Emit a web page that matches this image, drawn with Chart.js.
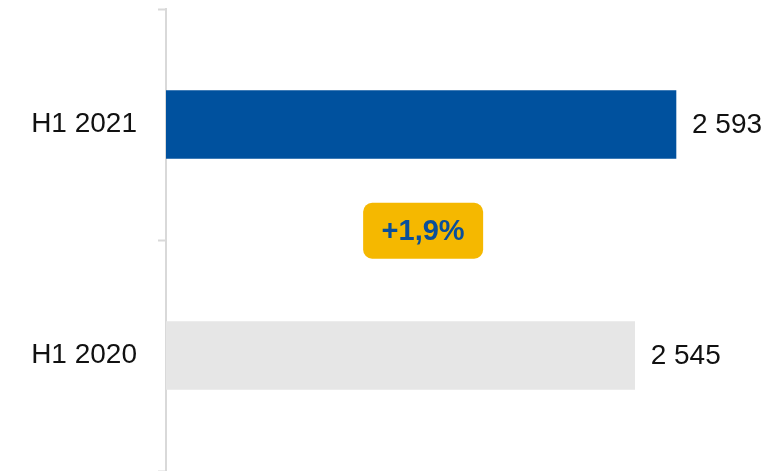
<!DOCTYPE html>
<html>
<head>
<meta charset="utf-8">
<script src="https://cdn.jsdelivr.net/npm/chart.js@4/dist/chart.umd.min.js"></script>
<style>
  html, body { margin: 0; padding: 0; background: #fff; }
  #wrap { width: 784px; height: 471px; position: relative; }
</style>
</head>
<body>
<div id="wrap"><canvas id="halfYearChart"></canvas></div>
<script>
// Chart data
const periods = ["H1 2021", "H1 2020"];
const values = [2593, 2545];
const barColors = ["#00519E", "#E6E6E6"];
const changeLabel = "+1,9%";

const FONT = "'Liberation Sans', Arial, sans-serif";
const AXIS_GREY = "#D9D9D9";

// thousands with a space, like "2 593"
function formatValue(v) {
    return String(v).replace(/\B(?=(\d{3})+(?!\d))/g, " ");
}

// Value labels at the end of each bar
const valueLabels = {
    id: "valueLabels",
    afterDatasetsDraw(chart) {
        const ctx = chart.ctx;
        const meta = chart.getDatasetMeta(0);
        ctx.save();
        ctx.font = "28px " + FONT;
        ctx.fillStyle = "#111";
        ctx.textAlign = "left";
        ctx.textBaseline = "middle";
        meta.data.forEach((bar, i) => {
            ctx.fillText(formatValue(values[i]), bar.x + 16, bar.y + 1);
        });
        ctx.restore();
    }
};

// Yellow change badge between the two bars
const changeBadge = {
    id: "changeBadge",
    afterDatasetsDraw(chart) {
        const ctx = chart.ctx;
        const x = chart.scales.x.getPixelForValue(2299);
        const y = chart.scales.y.getPixelForValue(0.46);
        const w = 120, h = 56;
        ctx.save();
        ctx.fillStyle = "#F5B800";
        ctx.beginPath();
        ctx.roundRect(x - w / 2, y - h / 2, w, h, 9);
        ctx.fill();
        ctx.font = "bold 29px " + FONT;
        ctx.fillStyle = "#0A4F9A";
        ctx.textAlign = "center";
        ctx.textBaseline = "middle";
        ctx.fillText(changeLabel, x, y + 1);
        ctx.restore();
    }
};

const ctx = document.getElementById("halfYearChart").getContext("2d");

new Chart(ctx, {
    type: "bar",
    data: {
        labels: periods,
        datasets: [{
            data: values,
            backgroundColor: barColors,
            borderWidth: 0,
            barThickness: 68
        }]
    },
    options: {
        indexAxis: "y",
        responsive: true,
        maintainAspectRatio: false,
        animation: false,
        layout: { padding: { top: 9, right: 16, bottom: 0, left: 0 } },
        plugins: {
            legend: { display: false },
            tooltip: { enabled: false }
        },
        scales: {
            x: {
                display: false,
                min: 2000,
                max: 2700
            },
            y: {
                afterFit(axis) {
                    axis.width = 166;
                    // no extra room above/below for the labels
                    axis.paddingTop = 0;
                    axis.paddingBottom = 0;
                },
                border: { display: true, color: AXIS_GREY, width: 2 },
                grid: {
                    offset: true,
                    drawOnChartArea: false,
                    tickLength: 8,
                    tickWidth: 2,
                    tickColor: c => (c.index === periods.length ? "transparent" : AXIS_GREY)
                },
                ticks: {
                    padding: 21,
                    color: "#111",
                    font: { family: FONT, size: 28 }
                }
            }
        }
    },
    plugins: [valueLabels, changeBadge]
});
</script>
</body>
</html>
